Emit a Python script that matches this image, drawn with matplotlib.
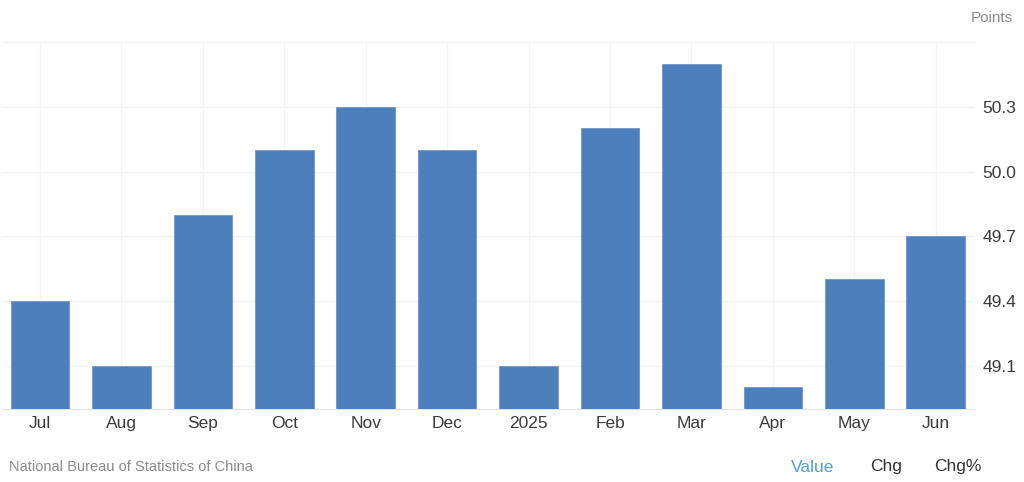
import matplotlib.pyplot as plt
import numpy as np

months = ["Jul", "Aug", "Sep", "Oct", "Nov", "Dec", "2025", "Feb", "Mar", "Apr", "May", "Jun"]
pmi = [49.4, 49.1, 49.8, 50.1, 50.3, 50.1, 49.1, 50.2, 50.5, 49.0, 49.5, 49.7]
y_ticks = [49.1, 49.4, 49.7, 50.0, 50.3]

plt.rcParams["font.family"] = ["Liberation Sans", "DejaVu Sans"]

fig = plt.figure(figsize=(10.24, 4.82), dpi=100)
fig.patch.set_facecolor("white")
ax = fig.add_axes([3 / 1024, 73 / 482, 971 / 1024, 367 / 482])

x = np.arange(len(months))
ax.bar(x, np.array(pmi) - 48.9, bottom=48.9, width=0.72, color="#4e7fbd",
       edgecolor="#6d96cc", linewidth=0.6, zorder=3)

ax.set_xlim(-0.455, 11.47)
ax.set_ylim(48.9, 50.6)
ax.set_xticks(x)
ax.set_xticklabels(months)
ax.set_yticks(y_ticks)
ax.set_yticklabels([f"{v:.1f}" for v in y_ticks])
ax.yaxis.tick_right()

ax.grid(True, color="#f3f3f3", linewidth=1.0, zorder=0)
for side in ["top", "left", "right"]:
    ax.spines[side].set_visible(False)
ax.spines["bottom"].set_color("#e4e4e4")
ax.tick_params(axis="both", length=0, labelsize=12.5, colors="#3a3a3a")
ax.tick_params(axis="x", pad=5)
ax.tick_params(axis="y", pad=6)
ax.plot([-0.455, 11.47], [50.6, 50.6], color="#f3f3f3", lw=1.0, clip_on=False, zorder=0)

fig.text(1013 / 1024, 1 - 18 / 482, "Points", ha="right", va="center", fontsize=11, color="#8a8a8a")
fig.text(9 / 1024, 1 - 467 / 482, "National Bureau of Statistics of China", ha="left", va="center",
         fontsize=10.5, color="#8a8a8a")
fig.text(813 / 1024, 1 - 467 / 482, "Value", ha="center", va="center", fontsize=12.5, color="#4f9ee8")
fig.text(886 / 1024, 1 - 467 / 482, "Chg", ha="center", va="center", fontsize=12.5, color="#333333")
fig.text(958 / 1024, 1 - 467 / 482, "Chg%", ha="center", va="center", fontsize=12.5, color="#333333")

fig.savefig("out.png", dpi=100, facecolor="white")
